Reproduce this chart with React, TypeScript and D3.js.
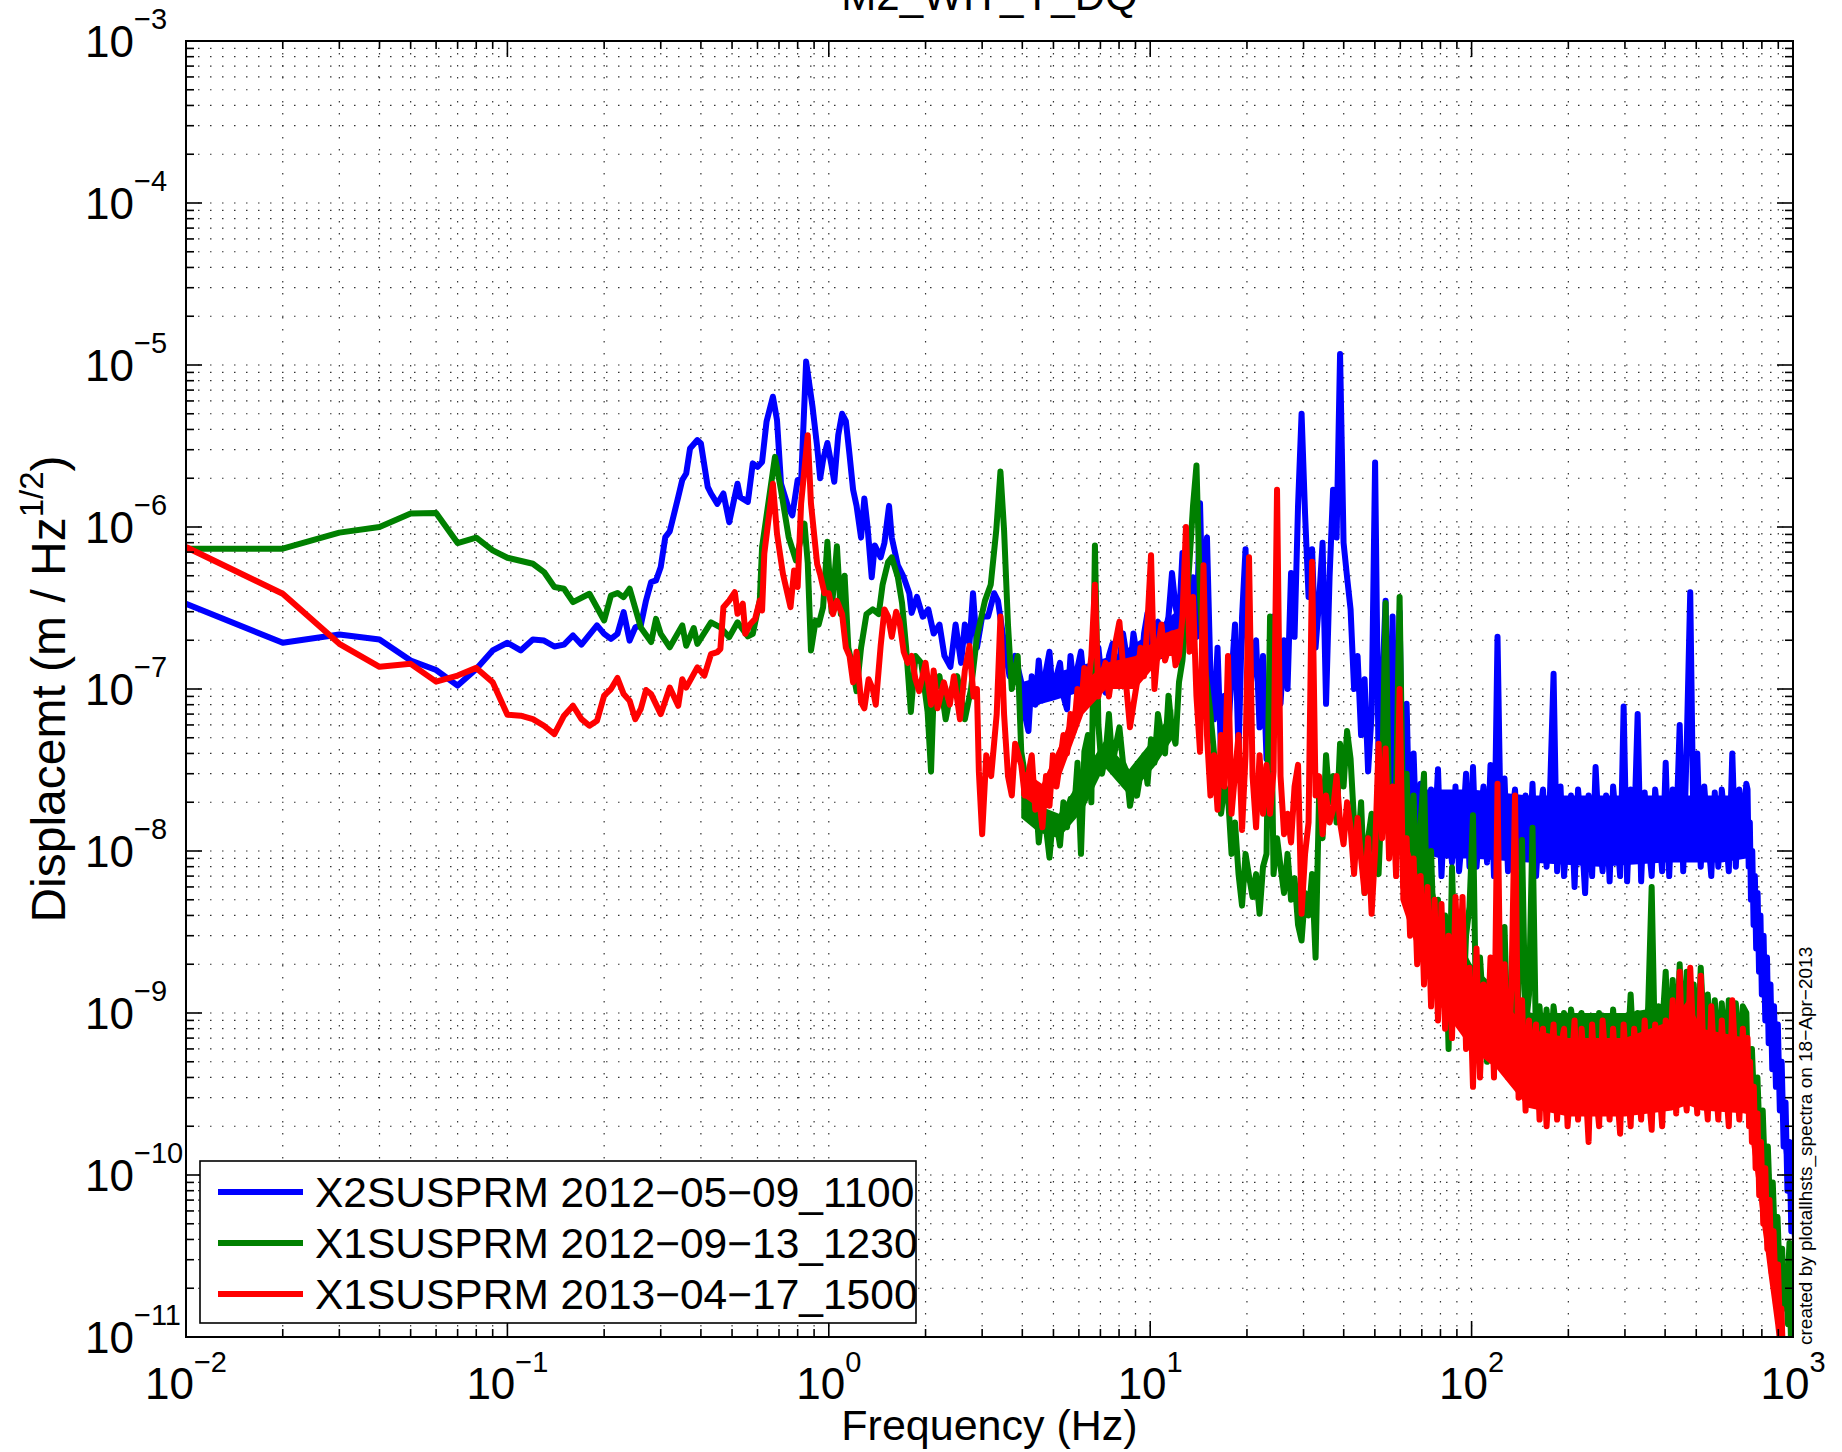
import React, { useEffect, useRef } from 'react';
import * as d3 from 'd3';

type Pt = [number, number];
type Band = [number, number, number]; // [Hz, lower edge, upper edge]

const chartTitle = 'M2_WIT_Y_DQ';
const xLabel = 'Frequency (Hz)';
const stamp = 'created by plotallhsts_spectra on 18\u2212Apr\u22122013';
const seriesNames = [
  'X2SUSPRM 2012\u221205\u221209_1100',
  'X1SUSPRM 2012\u221209\u221213_1230',
  'X1SUSPRM 2013\u221204\u221217_1500',
];
const seriesColors = ['#0000ff', '#008000', '#ff0000'];
const xDecades = [-2, -1, 0, 1, 2, 3];
const yDecades = [-11, -10, -9, -8, -7, -6, -5, -4, -3];

// low frequency part, 0.01 .. 3.9 Hz  [Hz, m/rtHz]
const blueLow: Pt[] = [
  [0.01,3.36e-7],[0.02,1.93e-7],[0.03,2.17e-7],[0.04,2.02e-7],[0.05,1.5e-7],[0.06,1.31e-7],[0.07,1.05e-7],[0.08,1.33e-7],[0.09,1.73e-7],[0.1,1.93e-7],
  [0.11,1.73e-7],[0.12,2.02e-7],[0.13,1.99e-7],[0.14,1.83e-7],[0.15,1.88e-7],[0.16,2.14e-7],[0.17,1.88e-7],[0.19,2.47e-7],[0.2,2.19e-7],[0.21,2.04e-7],
  [0.22,2.19e-7],[0.23,2.98e-7],[0.24,1.99e-7],[0.25,2.4e-7],[0.26,2.47e-7],[0.27,3.52e-7],[0.28,4.57e-7],[0.29,4.68e-7],[0.3,5.66e-7],[0.31,8.67e-7],
  [0.32,9.4e-7],[0.34,1.53e-6],[0.35,1.95e-6],[0.36,2.14e-6],[0.37,3.05e-6],[0.39,3.44e-6],[0.4,3.28e-6],[0.42,1.77e-6],[0.43,1.61e-6],[0.45,1.39e-6],
  [0.47,1.61e-6],[0.49,1.07e-6],[0.52,1.85e-6],[0.53,1.53e-6],[0.56,1.43e-6],[0.58,2.47e-6],[0.6,2.35e-6],[0.62,2.52e-6],[0.64,4.46e-6],[0.67,6.37e-6],
  [0.69,4.57e-6],[0.71,1.85e-6],[0.75,1.3e-6],[0.77,1.18e-6],[0.8,1.95e-6],[0.82,1.9e-6],[0.85,1.05e-5],[0.89,5.52e-6],[0.92,3.13e-6],[0.94,2.0e-6],
  [0.96,2.6e-6],[0.99,3.3e-6],[1.02,2.4e-6],[1.04,1.9e-6],[1.07,3.7e-6],[1.1,5.0e-6],[1.13,4.5e-6],[1.16,2.8e-6],[1.19,1.7e-6],[1.22,1.35e-6],
  [1.26,8.6e-7],[1.29,1.5e-6],[1.32,1.0e-6],[1.36,4.9e-7],[1.39,7.7e-7],[1.45,6.5e-7],[1.49,8.0e-7],[1.54,1.35e-6],[1.57,8.6e-7],[1.64,5.8e-7],
  [1.71,4.9e-7],[1.78,3.9e-7],[1.81,2.95e-7],[1.88,3.7e-7],[1.96,2.8e-7],[2.04,3.1e-7],[2.12,2.2e-7],[2.21,2.5e-7],[2.29,1.6e-7],[2.39,1.37e-7],
  [2.48,2.5e-7],[2.58,1.45e-7],[2.65,2.5e-7],[2.74,1.9e-7],[2.81,3.9e-7],[2.89,1.8e-7],[3.0,2.8e-7],[3.13,2.8e-7],[3.27,3.9e-7],[3.36,3.5e-7],
  [3.5,2.0e-7],[3.65,1.2e-7],[3.8,1.6e-7],
];
const greenLow: Pt[] = [
  [0.01,7.35e-7],[0.02,7.35e-7],[0.03,9.23e-7],[0.04,1.0e-6],[0.05,1.21e-6],[0.06,1.22e-6],[0.07,7.96e-7],[0.08,8.59e-7],[0.09,7.18e-7],[0.1,6.46e-7],
  [0.12,5.93e-7],[0.13,5.27e-7],[0.14,4.26e-7],[0.15,4.16e-7],[0.16,3.44e-7],[0.18,3.87e-7],[0.2,2.65e-7],[0.21,3.78e-7],[0.22,3.91e-7],[0.23,3.69e-7],
  [0.24,4.16e-7],[0.26,2.4e-7],[0.28,1.95e-7],[0.29,2.71e-7],[0.3,2.19e-7],[0.32,1.81e-7],[0.35,2.47e-7],[0.36,1.85e-7],[0.38,2.38e-7],[0.39,1.9e-7],
  [0.43,2.58e-7],[0.46,2.4e-7],[0.49,2.09e-7],[0.52,2.58e-7],[0.56,2.11e-7],[0.58,2.19e-7],[0.61,3.52e-7],[0.62,7.52e-7],[0.68,2.71e-6],[0.71,1.69e-6],
  [0.75,8.67e-7],[0.79,6.22e-7],[0.84,1.05e-6],[0.86,6.0e-7],[0.88,1.73e-7],[0.91,2.65e-7],[0.93,2.5e-7],[0.96,3.2e-7],[0.99,8.1e-7],[1.02,3.0e-7],
  [1.06,7.6e-7],[1.09,2.9e-7],[1.12,5.0e-7],[1.15,1.8e-7],[1.18,1.43e-7],[1.22,9.7e-8],[1.26,1.8e-7],[1.31,2.9e-7],[1.37,3.1e-7],[1.43,2.9e-7],
  [1.47,4.4e-7],[1.53,6.1e-7],[1.57,6.5e-7],[1.64,4.9e-7],[1.69,3.4e-7],[1.74,1.8e-7],[1.8,7.2e-8],[1.86,1.6e-7],[1.94,1.45e-7],[2.03,7.2e-8],
  [2.08,3.1e-8],[2.12,9.5e-8],[2.21,1.2e-7],[2.31,6.5e-8],[2.41,1.0e-7],[2.51,1.2e-7],[2.65,6.5e-8],[2.77,1.0e-7],[2.89,2.1e-7],[3.06,3.5e-7],
  [3.19,4.4e-7],[3.32,9.6e-7],[3.42,2.2e-6],[3.51,9.6e-7],[3.61,2.5e-7],[3.71,1.0e-7],[3.87,1.6e-7],
];
const redLow: Pt[] = [
  [0.01,7.52e-7],[0.02,3.87e-7],[0.03,1.9e-7],[0.04,1.37e-7],[0.05,1.43e-7],[0.06,1.11e-7],[0.07,1.21e-7],[0.08,1.35e-7],[0.09,1.1e-7],[0.1,6.94e-8],
  [0.11,6.84e-8],[0.12,6.52e-8],[0.13,5.93e-8],[0.14,5.27e-8],[0.15,6.84e-8],[0.16,7.88e-8],[0.17,6.52e-8],[0.18,5.93e-8],[0.19,6.37e-8],[0.2,9.1e-8],
  [0.21,1.0e-7],[0.22,1.17e-7],[0.23,9.3e-8],[0.24,8.47e-8],[0.25,6.52e-8],[0.26,7.52e-8],[0.27,9.86e-8],[0.28,9.3e-8],[0.3,7.0e-8],[0.31,8.47e-8],
  [0.32,1.02e-7],[0.34,7.88e-8],[0.35,1.15e-7],[0.36,1.02e-7],[0.39,1.36e-7],[0.41,1.21e-7],[0.43,1.64e-7],[0.45,1.69e-7],[0.46,1.77e-7],[0.47,3.2e-7],
  [0.49,3.52e-7],[0.51,3.96e-7],[0.52,2.91e-7],[0.54,3.36e-7],[0.55,2.19e-7],[0.57,2.52e-7],[0.59,2.71e-7],[0.61,3.52e-7],[0.62,3.05e-7],[0.63,6.84e-7],
  [0.67,1.85e-6],[0.69,9.1e-7],[0.72,5.14e-7],[0.76,3.2e-7],[0.78,5.39e-7],[0.8,4.26e-7],[0.82,1.39e-6],[0.86,3.69e-6],[0.88,1.4e-6],[0.92,5.9e-7],
  [0.94,5.1e-7],[0.97,3.9e-7],[1.0,3.9e-7],[1.03,2.9e-7],[1.06,3.5e-7],[1.1,2.9e-7],[1.13,1.8e-7],[1.16,1.6e-7],[1.19,1.1e-7],[1.22,1.7e-7],
  [1.26,8.3e-8],[1.29,7.6e-8],[1.33,1.15e-7],[1.37,1.0e-7],[1.4,8.0e-8],[1.45,1.85e-7],[1.49,3.1e-7],[1.53,2.8e-7],[1.57,2.1e-7],[1.62,3.0e-7],
  [1.66,2.6e-7],[1.71,1.7e-7],[1.76,1.45e-7],[1.81,1.6e-7],[1.86,1.15e-7],[1.91,9.7e-8],[2.0,1.45e-7],[2.08,8.0e-8],[2.12,1.3e-7],[2.18,7.6e-8],
  [2.28,1.1e-7],[2.38,8.0e-8],[2.45,1.2e-7],[2.56,6.5e-8],[2.65,1.3e-7],[2.74,1.85e-7],[2.82,9.0e-8],[2.89,1.0e-7],[2.93,3.1e-8],[3.0,1.27e-8],
  [3.09,3.9e-8],[3.2,2.9e-8],[3.33,7.0e-8],[3.42,2.8e-7],[3.51,7.0e-8],[3.61,2.9e-8],[3.71,2.2e-8],[3.8,4.6e-8],
];

// shared frequency bins, 4 .. 716 Hz
const binFreqs = [
  3.97, 4.07, 4.18, 4.28, 4.39, 4.5, 4.62, 4.74, 4.86, 4.98,
  5.11, 5.24, 5.37, 5.51, 5.65, 5.79, 5.94, 6.09, 6.24, 6.4,
  6.56, 6.73, 6.9, 7.08, 7.26, 7.44, 7.63, 7.82, 8.02, 8.23,
  8.44, 8.65, 8.87, 9.1, 9.33, 9.57, 9.81, 10.06, 10.31, 10.57,
  10.84, 11.12, 11.4, 11.69, 11.99, 12.29, 12.6, 12.92, 13.25, 13.59,
  13.93, 14.29, 14.65, 15.02, 15.4, 15.8, 16.2, 16.61, 17.03, 17.46,
  17.91, 18.36, 18.83, 19.31, 19.8, 20.3, 20.82, 21.35, 21.89, 22.44,
  23.01, 23.6, 24.2, 24.81, 25.44, 26.09, 26.75, 27.43, 28.13, 28.84,
  29.58, 30.33, 31.1, 31.89, 32.7, 33.53, 34.38, 35.25, 36.15, 37.07,
  38.01, 38.97, 39.96, 40.98, 42.02, 43.09, 44.18, 45.31, 46.46, 47.64,
  48.85, 50.09, 51.36, 52.66, 54.0, 55.37, 56.78, 58.22, 59.7, 61.22,
  62.77, 64.37, 66, 67.7, 69.4, 71.1, 72.9, 74.8, 76.7, 78.6,
  80.6, 82.7, 84.8, 86.9, 89.1, 91.4, 93.7, 96.1, 98.5, 101,
  103.6, 106.2, 108.9, 111.7, 114.5, 117.4, 120.4, 123.5, 126.6, 129.8,
  133.1, 136.5, 140, 143.5, 147.2, 150.9, 154.7, 158.7, 162.7, 166.8,
  171.1, 175.4, 179.9, 184.5, 189.1, 193.9, 198.9, 203.9, 209.1, 214.4,
  219.9, 225.5, 231.2, 237.1, 243.1, 249.3, 255.6, 262.1, 268.8, 275.6,
  282.6, 289.8, 297.2, 304.7, 312.5, 320.4, 328.6, 336.9, 345.5, 354.3,
  363.3, 372.5, 382, 391.7, 401.7, 411.9, 422.4, 433.1, 444.1, 455.4,
  467, 478.9, 491.1, 503.6, 516.4, 529.5, 543, 556.8, 571, 585.5,
  600.4, 615.7, 631.3, 647.4, 663.9, 680.8, 698.1, 715.9,
];

const blueBins = [
  1.1e-7, 7e-8, 5.5e-8, 1.2e-7, 8e-8, 1.5e-7, 8.5e-8, 1.3e-7, 1.7e-7, 9e-8,
  1.2e-7, 1.45e-7, 9e-8, 7.5e-8, 1.6e-7, 1.0e-7, 1.35e-7, 1.7e-7, 1.05e-7, 8.5e-8,
  1.2e-7, 1.4e-7, 1.8e-7, 1.1e-7, 9.5e-8, 1.6e-7, 1.9e-7, 1.15e-7, 1.5e-7, 2.2e-7,
  1.6e-7, 1.3e-7, 2.2e-7, 1.6e-7, 1.2e-7, 2.2e-7, 2.95e-7, 1.9e-7, 2.4e-7, 2.6e-7,
  1.6e-7, 2.2e-7, 2.8e-7, 5.2e-7, 3.2e-7, 2.6e-7, 6.9e-7, 3.7e-7, 3.0e-7, 4.9e-7,
  2.1e-7, 1.4e-6, 1.8e-7, 8.6e-7, 1.2e-7, 6.5e-8, 1.8e-7, 3.9e-8, 9.1e-8, 5.2e-8,
  1.2e-7, 2.5e-7, 3.9e-8, 2.8e-7, 7.3e-7, 8.1e-8, 1.4e-7, 2.0e-7, 5.8e-8, 1.6e-7,
  3.7e-8, 1.2e-7, 2.8e-7, 1.2e-7, 8.1e-8, 2.0e-7, 1.0e-7, 5.2e-7, 2.1e-7, 1.35e-6,
  5.0e-6, 1.2e-6, 3.7e-7, 7.3e-7, 1.8e-7, 3.5e-7, 8.0e-7, 8.1e-8, 4.9e-7, 1.7e-6,
  8.6e-7, 1.17e-5, 8.0e-7, 4.9e-7, 3.1e-7, 1.0e-7, 1.6e-7, 5.2e-8, 1.15e-7, 3.1e-8,
  7.0e-8, 2.5e-6, 3.4e-8, 1.0e-7, 3.5e-7, 2.0e-8, 2.8e-7, 1.2e-8, 3.0e-7, 1.1e-8,
  8.1e-8, 1.0e-8, 4.0e-8, 9e-9, 2.6e-8, 1.4e-8, 7.5e-9, 2.4e-8, 1.2e-8, 3.2e-8,
  7e-9, 2.2e-8, 1.5e-8, 8.5e-9, 2.5e-8, 7.5e-9, 1.3e-8, 3.0e-8, 8e-9, 3.3e-8,
  8e-9, 1.6e-8, 2.5e-8, 8.5e-9, 3.4e-8, 7e-9, 2.1e-7, 1.0e-8, 2.8e-8, 7.5e-9,
  1.5e-8, 2.4e-8, 8e-9, 1.2e-8, 2.2e-8, 9e-9, 2.6e-8, 7e-9, 1.6e-8, 2.4e-8,
  8e-9, 2.3e-8, 1.24e-7, 7.5e-9, 2.5e-8, 7e-9, 1.4e-8, 2.2e-8, 6e-9, 2.4e-8,
  1.3e-8, 5.5e-9, 2.2e-8, 7e-9, 3.3e-8, 1.2e-8, 7.5e-9, 2.2e-8, 6.5e-9, 2.5e-8,
  1.4e-8, 7e-9, 7.8e-8, 6.5e-9, 2.4e-8, 1.3e-8, 7.0e-8, 6.5e-9, 2.3e-8, 1.2e-8,
  7e-9, 2.4e-8, 1.4e-8, 7.5e-9, 3.5e-8, 7e-9, 2.4e-8, 1.3e-8, 6e-8, 7.5e-9,
  4.5e-8, 3.96e-7, 1.0e-8, 4e-8, 8e-9, 2.5e-8, 1.3e-8, 7e-9, 2.3e-8, 8e-9,
  2.4e-8, 1.4e-8, 7.5e-9, 4.0e-8, 8e-9, 2.4e-8, 1.3e-8, 2.6e-8,
];

const greenBins = [
  4.1e-8, 3.0e-8, 2.2e-8, 1.7e-8, 2.4e-8, 1.13e-8, 1.9e-8, 1.4e-8, 9.1e-9, 1.6e-8,
  1.5e-8, 1.08e-8, 2.0e-8, 1.4e-8, 2.1e-8, 1.7e-8, 3.5e-8, 9.6e-9, 4.1e-8, 5.2e-8,
  2.0e-8, 7.7e-7, 6.0e-8, 3.0e-8, 3.9e-8, 7.0e-8, 3.4e-8, 4.5e-8, 5.8e-8, 3.5e-8,
  3.1e-8, 1.9e-8, 2.5e-8, 2.2e-8, 3.0e-8, 3.9e-8, 2.6e-8, 4.9e-8, 3.5e-8, 7.0e-8,
  5.2e-8, 4.0e-8, 9.1e-8, 5.5e-8, 4.6e-8, 1.1e-7, 1.5e-7, 2.8e-7, 6.1e-7, 1.35e-6,
  2.4e-6, 3.7e-7, 1.6e-7, 1.1e-7, 7.0e-8, 4.0e-8, 2.9e-8, 1.7e-8, 2.5e-8, 2.2e-8,
  9.6e-9, 1.5e-8, 7.2e-9, 4.6e-9, 9.6e-9, 7e-9, 5.2e-9, 7.2e-9, 4.1e-9, 8e-9,
  9.6e-9, 2.8e-7, 7.2e-9, 1.2e-8, 8e-9, 5.5e-9, 9.6e-9, 5e-9, 6.8e-9, 3.5e-9,
  2.8e-9, 5.5e-9, 4e-9, 7.2e-9, 2.2e-9, 2.2e-8, 1.2e-8, 3.9e-8, 2.0e-8, 2.9e-8,
  1.5e-8, 4.6e-8, 2.5e-8, 5.5e-8, 3.7e-8, 1.5e-8, 9.6e-9, 2.0e-8, 5.5e-9, 1.2e-8,
  1.7e-8, 8e-9, 7.2e-9, 2.5e-8, 3.4e-7, 1.7e-8, 1.2e-8, 2.5e-8, 3.7e-7, 1.5e-8,
  3.0e-8, 6e-9, 2.2e-8, 4e-9, 1.5e-8, 3.0e-8, 3e-9, 1.0e-8, 2e-9, 5e-9,
  1.2e-9, 4e-9, 6e-10, 7.9e-9, 1.5e-9, 4e-9, 8e-10, 3e-9, 4.5e-9, 1.66e-8,
  6e-10, 2.2e-9, 1.0e-9, 5e-10, 1.8e-9, 5.5e-10, 1.5e-9, 8e-10, 3.4e-9, 6e-10,
  1.6e-9, 5e-10, 1.4e-9, 1.17e-8, 8e-10, 1.3e-9, 1.39e-8, 6e-10, 1.1e-9, 5e-10,
  1.05e-9, 5e-10, 1.1e-9, 7e-10, 4.5e-10, 1.0e-9, 5e-10, 1.05e-9, 7e-10, 4.5e-10,
  1.0e-9, 5e-10, 9.5e-10, 7e-10, 4.5e-10, 1.0e-9, 5e-10, 9.5e-10, 4.5e-10, 1.05e-9,
  5e-10, 9.5e-10, 7e-10, 5e-10, 1.3e-9, 5e-10, 1.0e-9, 7e-10, 4.5e-10, 1.1e-9,
  6e-9, 5e-10, 1.1e-9, 8e-10, 1.8e-9, 5e-10, 1.6e-9, 5.5e-10, 2e-9, 5e-10,
  1.8e-9, 5e-10, 1.5e-9, 5.5e-10, 1.9e-9, 7e-10, 1.3e-9, 5e-10, 1.2e-9, 5e-10,
  1.15e-9, 5e-10, 1.2e-9, 7e-10, 1.15e-9, 5e-10, 1.1e-9, 1.0e-9,
];

const redBins = [
  3.4e-8, 2.2e-8, 3.0e-8, 3.9e-8, 1.8e-8, 2.2e-8, 1.4e-8, 2.9e-8, 1.9e-8, 3.9e-8,
  2.5e-8, 3.5e-8, 5.2e-8, 4.0e-8, 7.0e-8, 5.5e-8, 1.0e-7, 7.6e-8, 1.35e-7, 1.0e-7,
  1.6e-7, 4.4e-7, 9.0e-8, 1.2e-7, 1.45e-7, 9.0e-8, 1.3e-7, 2.0e-7, 2.6e-7, 1.4e-7,
  1.0e-7, 5.8e-8, 8e-8, 1.1e-7, 1.8e-7, 1.2e-7, 2.6e-7, 6.7e-7, 1.0e-7, 1.8e-7,
  2.5e-7, 1.5e-7, 1.8e-7, 2.2e-7, 1.4e-7, 1.6e-7, 2.8e-7, 1.0e-6, 1.7e-7, 3.7e-7,
  9.0e-8, 4.1e-8, 5.8e-7, 5.2e-8, 2.2e-8, 3.9e-8, 1.8e-8, 5.2e-8, 2.5e-8, 1.6e-7,
  1.7e-8, 3.0e-8, 5.2e-8, 1.35e-8, 3.9e-8, 6.5e-7, 2.9e-8, 1.4e-8, 3.9e-8, 1.7e-8,
  3.4e-8, 1.7e-8, 3.1e-8, 1.7e-6, 2.9e-8, 1.27e-8, 1.7e-8, 1.13e-8, 2.5e-8, 3.4e-8,
  4.1e-9, 9.6e-9, 1.5e-8, 6.1e-7, 2.2e-8, 2.9e-8, 1.27e-8, 2.2e-8, 1.5e-8, 1.8e-8,
  2.9e-8, 1.5e-8, 1.1e-8, 2.0e-8, 1.4e-8, 7.2e-9, 1.6e-8, 9e-9, 5.5e-9, 1.2e-8,
  4.1e-9, 1.0e-8, 4.6e-8, 1.2e-8, 4.3e-8, 9e-9, 2.5e-8, 7e-9, 1.0e-7, 6e-9,
  1.2e-8, 3e-9, 9e-9, 2e-9, 7e-9, 1.5e-9, 6e-9, 1.1e-9, 5e-9, 9e-10,
  4.7e-9, 8e-10, 3e-9, 7e-10, 5.2e-9, 1.5e-9, 5.2e-9, 6e-10, 1.9e-9, 3.5e-10,
  2.5e-9, 4e-10, 1.5e-9, 6e-10, 2.2e-9, 4e-10, 2.6e-8, 5e-10, 2.0e-9, 4e-10,
  1.5e-9, 2.2e-8, 3e-10, 1.2e-9, 2.5e-10, 9e-10, 4e-10, 8.5e-10, 2.2e-10, 8e-10,
  2.0e-10, 4.5e-10, 8.5e-10, 2.2e-10, 6e-10, 8e-10, 2e-10, 4e-10, 9e-10, 2.2e-10,
  8e-10, 4e-10, 1.6e-10, 8.5e-10, 3.5e-10, 2.0e-10, 9e-10, 4.5e-10, 2.2e-10, 8e-10,
  3.5e-10, 1.8e-10, 8.5e-10, 4e-10, 2e-10, 8e-10, 4.5e-10, 2.2e-10, 9e-10, 3.5e-10,
  1.9e-10, 8.5e-10, 4e-10, 2e-10, 9e-10, 4.5e-10, 1.2e-9, 2.4e-10, 1.8e-9, 4e-10,
  2.5e-10, 1.9e-9, 6e-10, 2.4e-10, 1.7e-9, 4e-10, 2.2e-10, 1.1e-9, 4.5e-10, 2.2e-10,
  9e-10, 4e-10, 2.0e-10, 1.2e-9, 4.5e-10, 2.2e-10, 8e-10, 2.5e-10,
];

// roll-off above ~720 Hz
const blueTail: Pt[] = [
  [722,2.4e-8],[728,8e-9],[734,1.5e-8],[740,5e-9],[747,1.0e-8],[754,3.5e-9],[761,7e-9],[768,2.5e-9],[776,5.5e-9],[784,1.8e-9],
  [792,4e-9],[800,1.3e-9],[810,3e-9],[820,9e-10],[830,2.2e-9],[840,6.5e-10],[851,1.5e-9],[862,4.5e-10],[873,1.1e-9],[885,3.5e-10],
  [897,8.5e-10],[910,2.5e-10],[922,5e-10],[935,1.5e-10],[948,2.8e-10],[961,8e-11],[975,1.6e-10],[988,4.5e-11],[1000,9e-11],
];
const greenTail: Pt[] = [
  [722,5e-10],[730,3.5e-10],[745,6e-10],[760,2.2e-10],[775,4e-10],[790,1.4e-10],[805,2.5e-10],[820,8.5e-11],[835,1.5e-10],[850,5.5e-11],
  [865,9e-11],[880,3.5e-11],[895,5.5e-11],[910,2.2e-11],[925,3.5e-11],[940,1.5e-11],[955,2e-11],[965,1.2e-11],[970,3.0e-11],[975,3.8e-11],
  [980,1.5e-11],[988,8e-12],
];
const redTail: Pt[] = [
  [722,7e-10],[730,2e-10],[735,5e-10],[745,1.6e-10],[755,3.5e-10],[765,1.1e-10],[775,2.4e-10],[785,7.5e-11],[795,1.6e-10],[808,5e-11],
  [820,1.1e-10],[832,3.5e-11],[845,7e-11],[858,2.5e-11],[870,4.5e-11],[885,1.6e-11],[898,2.8e-11],[911,1.05e-11],[920,1.5e-11],[930,8e-12],
];

// solid cores of the noisy stretches, [Hz, lower, upper]
const blueCoreMid: Band[] = [
  [3.97,7.5e-8,1.1e-7],[5,8.5e-8,1.25e-7],[6.5,1.0e-7,1.45e-7],[8,1.15e-7,1.65e-7],[10,1.6e-7,2.2e-7],[12,2.2e-7,3.0e-7],[13.5,2.2e-7,3.0e-7],
];
const blueCore: Band[] = [
  [66,1.0e-8,2.4e-8],[80,9e-9,2.4e-8],[100,9e-9,2.4e-8],[150,8.5e-9,2.2e-8],[250,8e-9,2.2e-8],[400,8.5e-9,2.2e-8],
  [600,8.5e-9,2.2e-8],[716,9e-9,2.2e-8],[722,8.5e-9,2.1e-8],[735,6e-9,1.4e-8],[750,4e-9,9e-9],[765,2.8e-9,6.5e-9],
  [780,2.0e-9,5e-9],[800,1.5e-9,3.5e-9],[820,1.0e-9,2.5e-9],[840,7e-10,1.8e-9],[860,5e-10,1.3e-9],[880,4e-10,1.0e-9],
  [900,3.2e-10,8e-10],[925,1.8e-10,4.5e-10],[950,1e-10,2.5e-10],[975,6e-11,1.5e-10],[1000,3.5e-11,9e-11],
];
const greenCoreMid: Band[] = [
  [3.97,1.6e-8,2.4e-8],[4.5,1.3e-8,1.9e-8],[5.2,1.2e-8,1.7e-8],[6.2,1.8e-8,3.0e-8],[7.2,3.3e-8,4.8e-8],[8.6,2.2e-8,3.2e-8],[10.3,3.3e-8,5.0e-8],[11.8,5.0e-8,7.5e-8],
];
const greenCore: Band[] = [
  [62,8e-9,2e-8],[70,4e-9,1.2e-8],[80,1.5e-9,4e-9],[90,1e-9,3e-9],[100,8e-10,2e-9],[120,6e-10,1.4e-9],
  [150,5e-10,1.0e-9],[300,5e-10,1.0e-9],[400,6e-10,1.1e-9],[500,6e-10,1.1e-9],[600,5.5e-10,1.0e-9],[716,5.5e-10,9.5e-10],
  [740,3e-10,5e-10],[760,1.8e-10,3.5e-10],[790,1e-10,2e-10],[820,6e-11,1.2e-10],[850,3.5e-11,7e-11],[880,2e-11,4.5e-11],
  [910,1.2e-11,2.5e-11],[940,7e-12,1.5e-11],
];
const redCoreMid: Band[] = [
  [3.97,2.2e-8,3.2e-8],[4.6,1.8e-8,2.6e-8],[5.3,3.0e-8,4.8e-8],[6.2,7.0e-8,1.1e-7],[7.3,1.0e-7,1.45e-7],[9,1.0e-7,1.6e-7],[11,1.6e-7,2.2e-7],[12.5,1.6e-7,2.4e-7],
];
const redCore: Band[] = [
  [60,5e-9,1.5e-8],[70,2e-9,6e-9],[80,1.1e-9,3e-9],[90,8e-10,2.5e-9],[100,6e-10,1.6e-9],[120,4.5e-10,1.3e-9],
  [150,2.6e-10,8e-10],[200,2.3e-10,7e-10],[300,2.3e-10,7e-10],[420,2.5e-10,9e-10],[470,2.7e-10,1.2e-9],[520,2.5e-10,8e-10],
  [716,2.4e-10,7e-10],[722,2.2e-10,6.5e-10],[740,1.6e-10,4e-10],[760,1.1e-10,2.8e-10],[780,7.5e-11,1.9e-10],[800,5e-11,1.3e-10],
  [820,3.5e-11,9e-11],[840,2.4e-11,6e-11],[860,1.7e-11,4.2e-11],[880,1.2e-11,3e-11],[900,8e-12,2e-11],[930,5e-12,1.2e-11],
];

const withBins = (low: Pt[], bins: number[], tail: Pt[]): Pt[] =>
  low.concat(binFreqs.map((f, i) => [f, bins[i]] as Pt).filter(d => d[1] != null), tail);

const allSeries = [
  withBins(blueLow, blueBins, blueTail),
  withBins(greenLow, greenBins, greenTail),
  withBins(redLow, redBins, redTail),
];
const allCores = [
  [blueCoreMid, blueCore],
  [greenCoreMid, greenCore],
  [redCoreMid, redCore],
];

const FONT = '"Liberation Sans", Arial, Helvetica, sans-serif';

export default function App() {
  const ref = useRef<SVGSVGElement>(null);

  useEffect(() => {
    drawChart();
  }, []);

  const drawChart = () => {
    const svg = d3.select(ref.current);
    svg.selectAll('*').remove();

    const left = 186, right = 1793, top = 41, bottom = 1337;

    const x = d3.scaleLog().domain([1e-2, 1e3]).range([left, right]);
    const y = d3.scaleLog().domain([1e-11, 1e-3]).range([bottom, top]);

    svg.append('rect').attr('width', 1842).attr('height', 1452).attr('fill', '#fff');

    // every 1..9 x 10^n position
    const minors = (decs: number[]) =>
      decs.slice(0, -1).flatMap(e => d3.range(1, 10).map(m => m * Math.pow(10, e)));
    const xTicks = minors(xDecades);
    const yTicks = minors(yDecades);

    // dotted grid
    const grid = svg.append('g')
      .attr('stroke', '#333')
      .attr('stroke-width', 1.2)
      .attr('stroke-dasharray', '1.5,10.5');

    xTicks.filter(v => v > 1e-2).forEach(v => {
      grid.append('line')
        .attr('x1', x(v)).attr('x2', x(v))
        .attr('y1', top).attr('y2', bottom);
    });
    yTicks.filter(v => v > 1e-11).forEach(v => {
      grid.append('line')
        .attr('x1', left).attr('x2', right)
        .attr('y1', y(v)).attr('y2', y(v));
    });

    // spectra
    svg.append('clipPath').attr('id', 'plot-clip')
      .append('rect')
      .attr('x', left).attr('y', top)
      .attr('width', right - left).attr('height', bottom - top);

    const line = d3.line<Pt>()
      .x(d => x(d[0]))
      .y(d => y(d[1]));

    const area = d3.area<Band>()
      .x(d => x(d[0]))
      .y0(d => y(d[1]))
      .y1(d => y(d[2]));

    const lines = svg.append('g').attr('clip-path', 'url(#plot-clip)');
    allSeries.forEach((s, i) => {
      allCores[i].forEach(core => {
        lines.append('path')
          .datum(core)
          .attr('fill', seriesColors[i])
          .attr('stroke', 'none')
          .attr('d', area);
      });
      lines.append('path')
        .datum(s)
        .attr('fill', 'none')
        .attr('stroke', seriesColors[i])
        .attr('stroke-width', 6)
        .attr('stroke-linejoin', 'round')
        .attr('d', line);
    });

    // ticks, inside, on all four sides
    const ticks = svg.append('g').attr('stroke', '#000').attr('stroke-width', 1.6);
    const isMajor = (v: number) => Math.abs(Math.log10(v) - Math.round(Math.log10(v))) < 1e-6;

    xTicks.concat([1e3]).forEach(v => {
      const len = isMajor(v) ? 16 : 8;
      ticks.append('line').attr('x1', x(v)).attr('x2', x(v)).attr('y1', bottom).attr('y2', bottom - len);
      ticks.append('line').attr('x1', x(v)).attr('x2', x(v)).attr('y1', top).attr('y2', top + len);
    });
    yTicks.concat([1e-3]).forEach(v => {
      const len = isMajor(v) ? 16 : 8;
      ticks.append('line').attr('x1', left).attr('x2', left + len).attr('y1', y(v)).attr('y2', y(v));
      ticks.append('line').attr('x1', right).attr('x2', right - len).attr('y1', y(v)).attr('y2', y(v));
    });

    svg.append('rect')
      .attr('x', left).attr('y', top)
      .attr('width', right - left).attr('height', bottom - top)
      .attr('fill', 'none')
      .attr('stroke', '#000')
      .attr('stroke-width', 2);

    const expText = (e: number) => (e < 0 ? '\u2212' + Math.abs(e) : String(e));

    // x tick labels
    xDecades.forEach(e => {
      const t = svg.append('text')
        .attr('x', x(Math.pow(10, e)))
        .attr('y', 1399)
        .attr('text-anchor', 'middle')
        .attr('font-family', FONT)
        .attr('font-size', 44)
        .attr('fill', '#000');
      t.append('tspan').text('10');
      t.append('tspan').attr('dy', -27).attr('font-size', 29).text(expText(e));
    });

    // y tick labels: the "10" starts at a fixed x
    yDecades.forEach(e => {
      const t = svg.append('text')
        .attr('x', 85)
        .attr('y', y(Math.pow(10, e)) + 16)
        .attr('font-family', FONT)
        .attr('font-size', 44)
        .attr('fill', '#000');
      t.append('tspan').text('10');
      t.append('tspan').attr('dy', -28).attr('font-size', 29).text(expText(e));
    });

    svg.append('text')
      .attr('x', (left + right) / 2)
      .attr('y', 10)
      .attr('text-anchor', 'middle')
      .attr('font-family', FONT)
      .attr('font-size', 42)
      .text(chartTitle);

    svg.append('text')
      .attr('x', (left + right) / 2)
      .attr('y', 1440)
      .attr('text-anchor', 'middle')
      .attr('font-family', FONT)
      .attr('font-size', 43)
      .text(xLabel);

    const yl = svg.append('text')
      .attr('transform', `translate(65,${(top + bottom) / 2}) rotate(-90)`)
      .attr('text-anchor', 'middle')
      .attr('font-family', FONT)
      .attr('font-size', 48);
    yl.append('tspan').text('Displacemt (m / Hz');
    yl.append('tspan').attr('dy', -22).attr('font-size', 33).text('1/2');
    yl.append('tspan').attr('dy', 22).text(')');

    svg.append('text')
      .attr('transform', 'translate(1812,1345) rotate(-90)')
      .attr('font-family', FONT)
      .attr('font-size', 19)
      .text(stamp);

    // legend
    const lg = svg.append('g');
    lg.append('rect')
      .attr('x', 200).attr('y', 1161)
      .attr('width', 716).attr('height', 162)
      .attr('fill', '#fff')
      .attr('stroke', '#000')
      .attr('stroke-width', 1.6);
    seriesNames.forEach((name, i) => {
      const ry = 1192 + i * 51;
      lg.append('line')
        .attr('x1', 218).attr('x2', 303)
        .attr('y1', ry).attr('y2', ry)
        .attr('stroke', seriesColors[i])
        .attr('stroke-width', 6);
      lg.append('text')
        .attr('x', 315).attr('y', ry + 15)
        .attr('font-family', FONT)
        .attr('font-size', 42.5)
        .text(name);
    });
  };

  return (
    <svg
      ref={ref}
      width={1842}
      height={1452}
      style={{ position: 'absolute', left: 0, top: 0, display: 'block' }}
    />
  );
}
